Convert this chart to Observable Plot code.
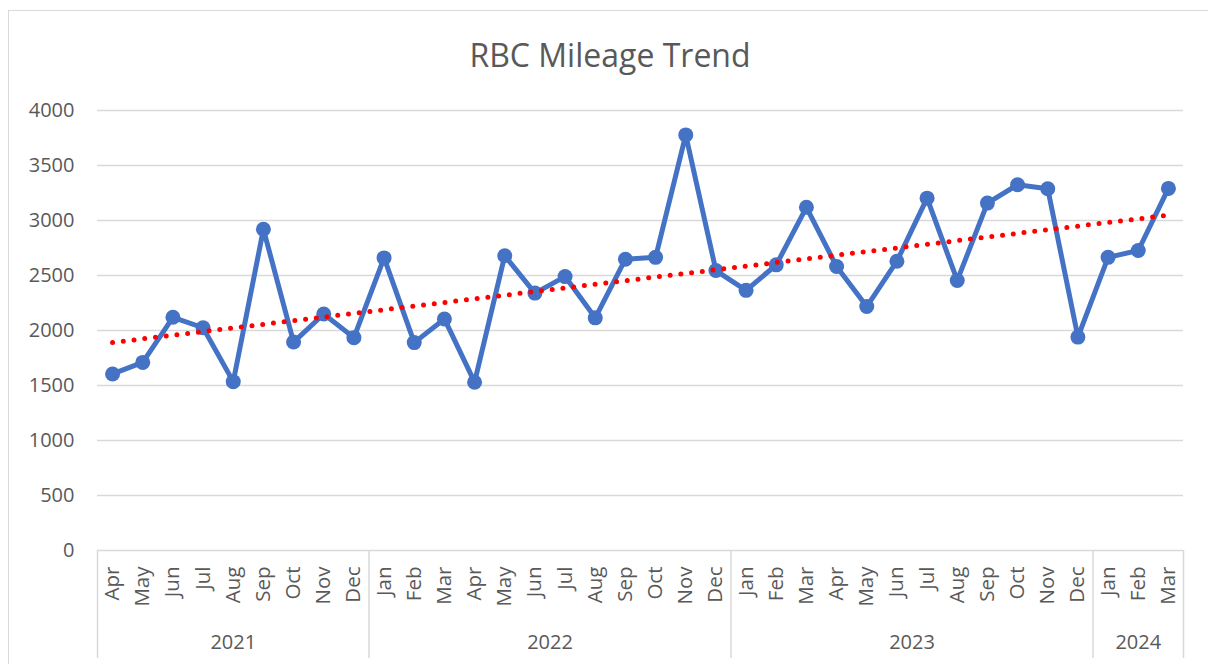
<!DOCTYPE html>
<html>
<head>
<meta charset="utf-8">
<script src="https://cdn.jsdelivr.net/npm/d3@7"></script>
<script src="https://cdn.jsdelivr.net/npm/@observablehq/plot@0.6"></script>
<style>
  html, body { margin: 0; padding: 0; background: #fff; width: 1208px; height: 664px; overflow: hidden; }
  #wrap { position: relative; width: 1208px; height: 664px; font-family: "Open Sans", sans-serif; }
  #frame { position: absolute; left: 8px; top: 10px; width: 1230px; height: 700px; border: 1.5px solid #d9d9d9; box-sizing: border-box; }
  #title { position: absolute; left: 12px; top: 0; width: 1196px; height: 90px; line-height: 110px; text-align: center; font-size: 32px; color: #595959; }
  #chart { position: absolute; left: 0; top: 90px; }
</style>
</head>
<body>
<div id="wrap">
  <div id="frame"></div>
  <div id="title">RBC Mileage Trend</div>
  <div id="chart"></div>
</div>
<script>
const months = ["Apr","May","Jun","Jul","Aug","Sep","Oct","Nov","Dec",
  "Jan","Feb","Mar","Apr","May","Jun","Jul","Aug","Sep","Oct","Nov","Dec",
  "Jan","Feb","Mar","Apr","May","Jun","Jul","Aug","Sep","Oct","Nov","Dec",
  "Jan","Feb","Mar"];
const years = ["2021","2022","2023","2024"];
const yearCounts = [9, 12, 12, 3];
const mileage = [1605, 1710, 2120, 2025, 1535, 2920, 1895, 2150, 1935,
  2660, 1890, 2105, 1530, 2680, 2340, 2490, 2115, 2648, 2665, 3778, 2545,
  2365, 2597, 3120, 2582, 2218, 2630, 3203, 2455, 3158, 3325, 3288, 1940,
  2665, 2727, 3292];
const yTicks = [0, 500, 1000, 1500, 2000, 2500, 3000, 3500, 4000];

const data = mileage.map((v, i) => ({i, v, m: months[i]}));

// year group boundaries and centers (in index units)
const bounds = [-0.5];
const centers = [];
let acc = 0;
yearCounts.forEach((c) => { centers.push(acc + (c - 1) / 2); acc += c; bounds.push(acc - 0.5); });

const gray = "#595959";
const chart = Plot.plot({
  width: 1208,
  height: 574,
  marginLeft: 97,
  marginRight: 25,
  marginTop: 20,
  marginBottom: 114,
  style: { fontFamily: "Open Sans, sans-serif", fontSize: "20px", color: gray, background: "transparent", overflow: "visible" },
  x: { type: "linear", domain: [-0.5, 35.5] },
  y: { domain: [0, 4000] },
  marks: [
    Plot.gridY(yTicks, { stroke: "#d9d9d9", strokeOpacity: 1, strokeWidth: 1.5 }),
    Plot.axisY(yTicks, { tickSize: 0, tickPadding: 23, fontSize: 20, fill: gray, label: null, tickFormat: d3.format("d") }),
    Plot.axisX(d3.range(months.length), { tickSize: 0, tickPadding: 16, tickRotate: -90, fontSize: 20.5, fill: gray, tickFormat: (i) => months[i], label: null }),
    Plot.axisX(centers, { tickSize: 0, tickPadding: 84, fontSize: 20, fill: gray, tickFormat: (c, k) => years[k], label: null }),
    Plot.axisX(bounds, { tickSize: 108, stroke: "#d9d9d9", strokeWidth: 1.5, strokeOpacity: 1, tickFormat: () => "", label: null }),
    Plot.line(data, { x: "i", y: "v", stroke: "#4472C4", strokeWidth: 5 }),
    Plot.dot(data, { x: "i", y: "v", r: 7.5, fill: "#4472C4", stroke: "none" }),
    Plot.linearRegressionY(data, { x: "i", y: "v", ci: 0, stroke: "#ff0000", strokeWidth: 5, strokeDasharray: "0,10.8", strokeLinecap: "round" })
  ]
});
document.getElementById("chart").appendChild(chart);
</script>
</body>
</html>
